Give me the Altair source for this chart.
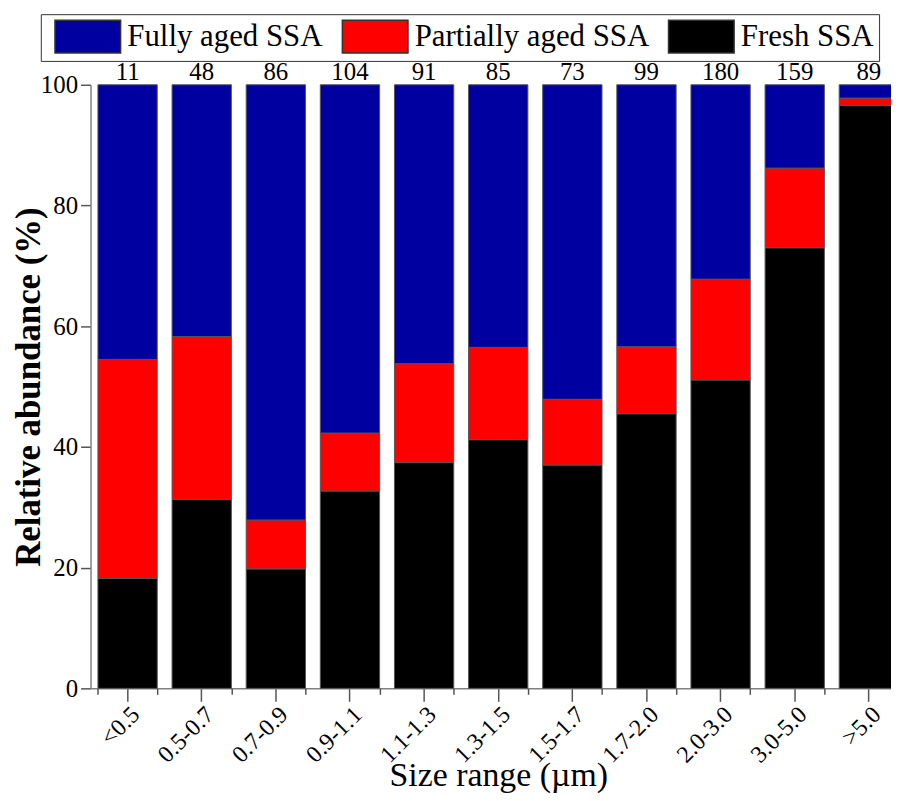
import altair as alt
import pandas as pd

categories = ["<0.5", "0.5-0.7", "0.7-0.9", "0.9-1.1", "1.1-1.3", "1.3-1.5",
              "1.5-1.7", "1.7-2.0", "2.0-3.0", "3.0-5.0", ">5.0"]
counts = [11, 48, 86, 104, 91, 85, 73, 99, 180, 159, 89]
fresh = [18.2, 31.3, 19.8, 32.7, 37.4, 41.2, 37.0, 45.5, 51.1, 73.0, 96.6]
partial = [36.3, 27.0, 8.1, 9.6, 16.4, 15.3, 10.9, 11.1, 16.7, 13.2, 1.2]
fully = [45.5, 41.7, 72.1, 57.7, 46.2, 43.5, 52.1, 43.4, 32.2, 13.8, 2.2]

series_names = ["Fully aged SSA", "Partially aged SSA", "Fresh SSA"]
series_colors = ["#0000a0", "#ff0000", "#000000"]
y_ticks = [0, 20, 40, 60, 80, 100]

rows = []
for i, c in enumerate(categories):
    for s, vals, k in ((series_names[2], fresh, 0),
                       (series_names[1], partial, 1),
                       (series_names[0], fully, 2)):
        rows.append({"size": c, "series": s, "value": vals[i], "k": k})
df = pd.DataFrame(rows)
cnt = pd.DataFrame({"size": categories, "n": counts})

FONT = "Liberation Serif"
xscale = alt.Scale(domain=categories, paddingInner=0.2, paddingOuter=0.1, range=[0, 820])

bars = alt.Chart(df).mark_bar(stroke="#555555", strokeWidth=1).encode(
    x=alt.X("size:N", sort=categories, scale=xscale,
            axis=alt.Axis(title="Size range (µm)", labelAngle=-45, labelAlign="right",
                          labelBaseline="top", tickSize=13,
                          labelFontSize=24, titleFontSize=34, titleFontWeight="normal",
                          titleBaseline="alphabetic", titleY=98, labelPadding=1)),
    y=alt.Y("value:Q", stack="zero", scale=alt.Scale(domain=[0, 100], nice=False),
            axis=alt.Axis(title="Relative abundance (%)", values=y_ticks, tickSize=10,
                          labelFontSize=25, labelPadding=3, titleFontSize=35,
                          titleFontWeight="bold", titleBaseline="alphabetic", titleX=-51)),
    color=alt.Color("series:N", scale=alt.Scale(domain=series_names, range=series_colors),
                    legend=alt.Legend(title=None, orient="none", legendX=-50, legendY=-71,
                                      direction="horizontal",
                                      symbolType="M-0.5,-1H3.5V1H-0.5Z",
                                      symbolSize=1089, symbolStrokeColor="#333333",
                                      symbolStrokeWidth=1.5, labelFont=FONT,
                                      labelFontSize=31, labelOffset=47, labelLimit=400,
                                      columnPadding=10, padding=5, strokeColor="#333333",
                                      labelColor="black",
                                      labelExpr="datum.label == 'Fresh SSA' ? 'Fresh SSA         ' : datum.label")),
    order=alt.Order("k:Q"),
)

labels = alt.Chart(cnt).mark_text(baseline="alphabetic", dy=-5, fontSize=25,
                                  font=FONT, color="black").encode(
    x=alt.X("size:N", sort=categories, scale=xscale,
            axis=alt.Axis(orient="bottom", tickBand="extent", labels=False, domain=False,
                          title=None, tickSize=6)),
    y=alt.datum(100),
    text="n:Q",
)

chart = alt.layer(bars, labels).resolve_axis(x="independent").properties(
    width=805, height=607,
    autosize=alt.AutoSizeParams(type="none"),
    padding={"left": 83, "top": 75, "right": 0, "bottom": 103},
).configure(font=FONT).configure_view(stroke=None).configure_axis(
    grid=False, labelFont=FONT, titleFont=FONT, labelColor="black", titleColor="black",
    domainColor="#808080", domainWidth=1.5, tickColor="#555555", tickWidth=1.5
)

chart.save("out.html", embed_options={"renderer": "svg", "actions": False})
